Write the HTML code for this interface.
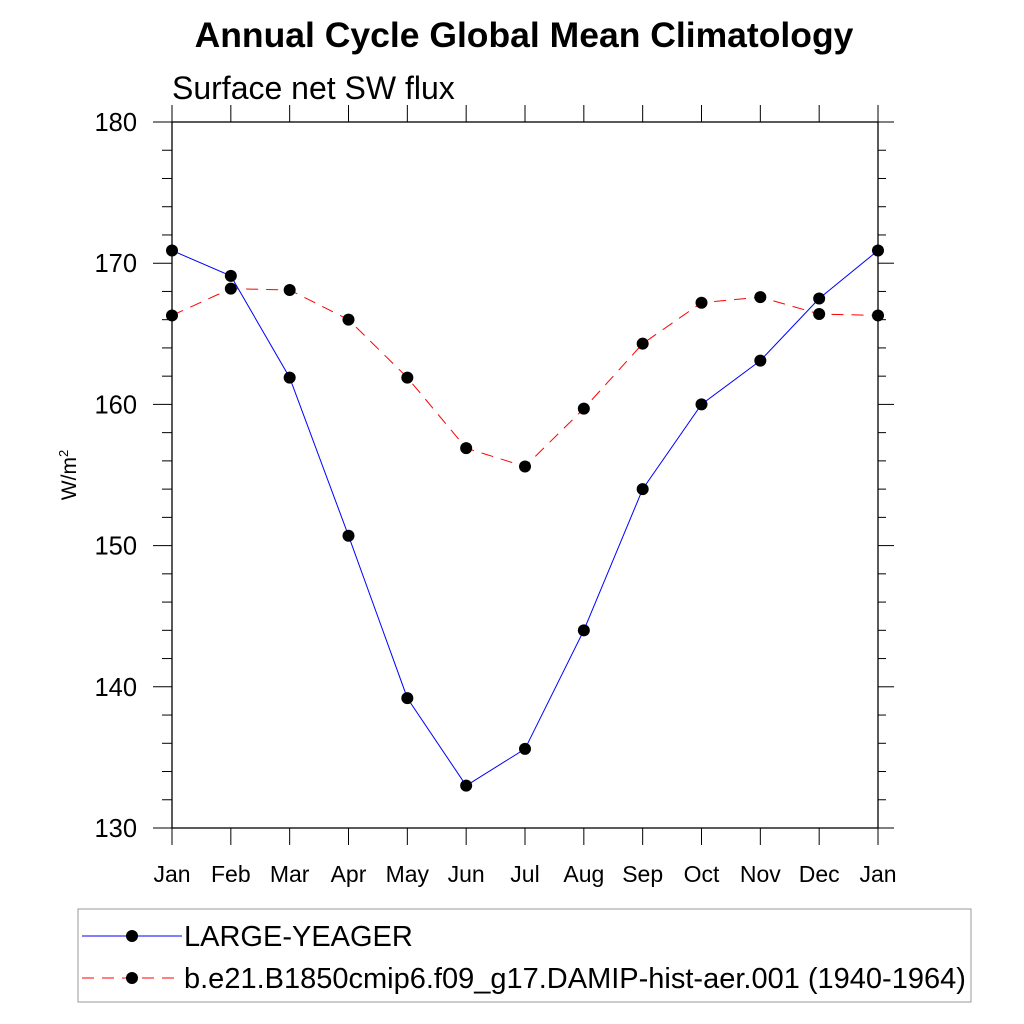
<!DOCTYPE html>
<html><head><meta charset="utf-8"><style>body{margin:0;background:#fff}svg{display:block}text{font-family:"Liberation Sans",sans-serif}</style></head>
<body>
<svg id="c" width="1024" height="1024">
<text x="524" y="47" text-anchor="middle" font-size="35.5" font-weight="bold">Annual Cycle Global Mean Climatology</text>
<text x="172" y="99" font-size="32">Surface net SW flux</text>
<text transform="translate(76,475) rotate(-90)" text-anchor="middle" font-size="21">W/m<tspan dy="-8" font-size="13">2</tspan></text>
<g id="axes"></g><g id="series"></g>
<rect x="78" y="909" width="893" height="93" fill="none" stroke="#999" stroke-width="1"/>
<g>
<line x1="82" y1="936" x2="182" y2="936" stroke="#00f" stroke-width="1"/><circle cx="132" cy="936" r="6"/>
<text x="184" y="946" font-size="29">LARGE-YEAGER</text></g>
<g>
<line x1="82" y1="978" x2="182" y2="978" stroke="#f00" stroke-width="1" stroke-dasharray="12,8"/><circle cx="132" cy="978" r="6"/>
<text x="184" y="988" font-size="29">b.e21.B1850cmip6.f09_g17.DAMIP-hist-aer.001 (1940-1964)</text></g>
</svg>
<script>
const months=["Jan","Feb","Mar","Apr","May","Jun","Jul","Aug","Sep","Oct","Nov","Dec","Jan"];
const yTicks=[130,140,150,160,170,180];
const largeYeager=[170.9,169.1,161.9,150.7,139.2,133.0,135.6,144.0,154.0,160.0,163.1,167.5,170.9];
const damip=[166.3,168.2,168.1,166.0,161.9,156.9,155.6,159.7,164.3,167.2,167.6,166.4,166.3];
const NS="http://www.w3.org/2000/svg";
const X0=172,X1=878,Y0=828,Y1=122,ymin=130,ymax=180;
const xs=i=>X0+(X1-X0)*i/(months.length-1);
const ys=v=>Y0-(Y0-Y1)*(v-ymin)/(ymax-ymin);
function mk(t,a,p){const e=document.createElementNS(NS,t);for(const k in a)e.setAttribute(k,a[k]);p.appendChild(e);return e;}
const ax=document.getElementById('axes');
const frame=mk('rect',{x:X0,y:Y1,width:X1-X0,height:Y0-Y1,fill:'none',stroke:'#000','stroke-width':1.3},ax);


months.forEach((m,i)=>{const x=xs(i);
 mk('line',{x1:x,y1:Y0,x2:x,y2:Y0+17,stroke:'#000','stroke-width':1},ax);
 mk('line',{x1:x,y1:Y1,x2:x,y2:Y1-17,stroke:'#000','stroke-width':1},ax);
 const t=mk('text',{x:x,y:882,'text-anchor':'middle','font-size':23},ax);t.textContent=m;
 
 
});
for(let v=ymin;v<=ymax;v+=2){const y=ys(v);const maj=(v%10===0);const L=maj?19:10;
 mk('line',{x1:X0-L,y1:y,x2:X0,y2:y,stroke:'#000','stroke-width':1},ax);
 mk('line',{x1:X1,y1:y,x2:X1+(maj?16:8),y2:y,stroke:'#000','stroke-width':1},ax);}
yTicks.forEach(v=>{const t=mk('text',{x:137,y:ys(v)+9,'text-anchor':'end','font-size':25.5},ax);t.textContent=v;
 
 });
const sg=document.getElementById('series');
function draw(data,color,dash,name){
 const g=mk('g',{},sg);
 
 
 const pl=mk('polyline',{points:data.map((v,i)=>xs(i)+','+ys(v)).join(' '),fill:'none',stroke:color,'stroke-width':1},g);
 if(dash)pl.setAttribute('stroke-dasharray',dash);
 data.forEach((v,i)=>{const c=mk('circle',{cx:xs(i),cy:ys(v),r:6,fill:'#000'},g);
  
  });
}
draw(damip,'#f00','12,8','damip-series');
draw(largeYeager,'#00f',null,'large-yeager-series');
</script>
</body></html>
